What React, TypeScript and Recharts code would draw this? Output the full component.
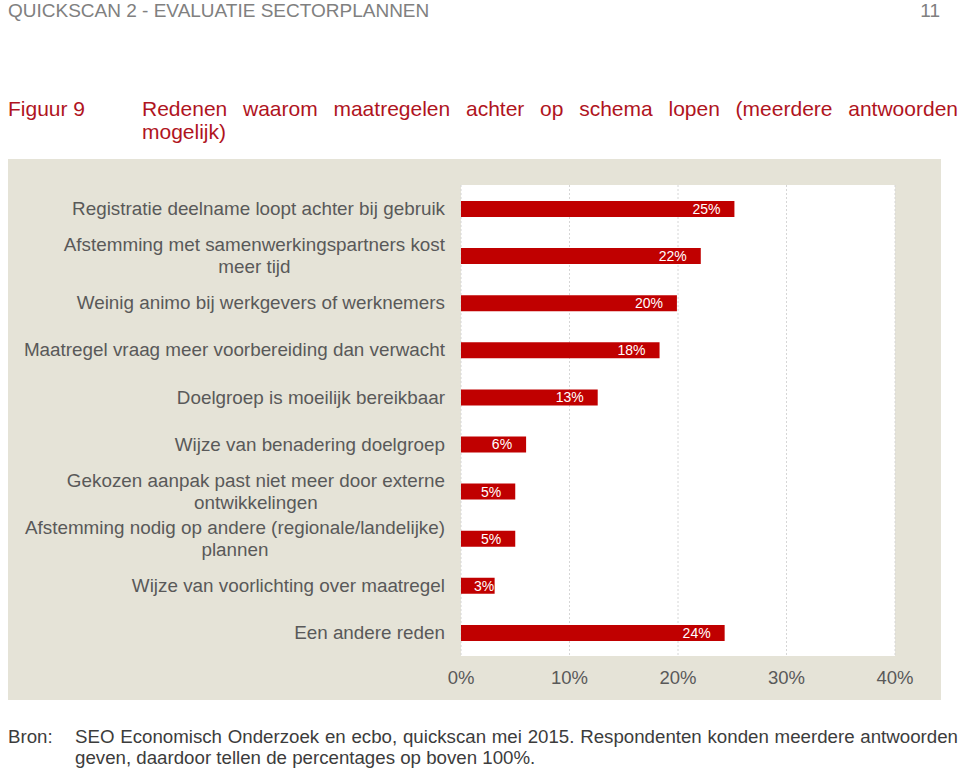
import React from 'react';
import { BarChart, Bar, XAxis, YAxis, CartesianGrid, LabelList } from 'recharts';

const categories: string[] = [
  'Registratie deelname loopt achter bij gebruik',
  'Afstemming met samenwerkingspartners kost\nmeer tijd',
  'Weinig animo bij werkgevers of werknemers',
  'Maatregel vraag meer voorbereiding dan verwacht',
  'Doelgroep is moeilijk bereikbaar',
  'Wijze van benadering doelgroep',
  'Gekozen aanpak past niet meer door externe\nontwikkelingen',
  'Afstemming nodig op andere (regionale/landelijke)\nplannen',
  'Wijze van voorlichting over maatregel',
  'Een andere reden',
];
// bar lengths (labels show the rounded percentage)
const values: number[] = [25.2, 22.1, 19.9, 18.3, 12.6, 6.0, 5.0, 5.0, 3.1, 24.3];
const xTicks: number[] = [0, 10, 20, 30, 40];

const headerText = 'QUICKSCAN 2 - EVALUATIE SECTORPLANNEN';
const pageNumber = '11';
const figureLabel = 'Figuur 9';
const titleLines = ['Redenen waarom maatregelen achter op schema lopen (meerdere antwoorden', 'mogelijk)'];
const sourceLabel = 'Bron:';
const sourceLines = [
  'SEO Economisch Onderzoek en ecbo, quickscan mei 2015. Respondenten konden meerdere antwoorden',
  'geven, daardoor tellen de percentages op boven 100%.',
];

const data = categories.map((name, i) => ({ name, value: values[i] }));

const FONT = '"Liberation Sans", Arial, Helvetica, sans-serif';

let ctx: CanvasRenderingContext2D | null = null;
function measure(text: string, size: number): number {
  if (!ctx) {
    const c = document.createElement('canvas');
    ctx = c.getContext('2d');
  }
  if (!ctx) return text.length * size * 0.5;
  ctx.font = `${size}px "Liberation Sans", Arial, sans-serif`;
  return ctx.measureText(text).width;
}

const Y_FONT = 18.85;

function YTick(props: any) {
  const { x, y, payload } = props;
  const lines = String(payload.value).split('\n');
  const lh = 22;
  const maxW = Math.max(...lines.map((l) => measure(l, Y_FONT)));
  const multi = lines.length > 1;
  return (
    <g>
      {lines.map((l, i) => (
        <text
          key={i}
          x={multi ? Number(x) - maxW / 2 : Number(x)}
          y={Number(y) + (i - (lines.length - 1) / 2) * lh}
          dy="0.35em"
          textAnchor={multi ? 'middle' : 'end'}
          fontSize={Y_FONT}
          fontFamily={FONT}
          fill="#595959"
        >
          {l}
        </text>
      ))}
    </g>
  );
}

function BarLabel(props: any) {
  const x = Number(props.x);
  const y = Number(props.y);
  const width = Number(props.width);
  const height = Number(props.height);
  const txt = `${Math.round(Number(props.value))}%`;
  const w = measure(txt, 14);
  const tx = Math.max(x + width - 14, x + 13 + w);
  return (
    <text x={tx} y={y + height / 2} dy="0.35em" textAnchor="end" fontSize={14} fontFamily={FONT} fill="#ffffff">
      {txt}
    </text>
  );
}

export default function App() {
  return (
    <div style={{ position: 'absolute', left: 0, top: 0, width: 959, height: 773, background: '#ffffff', fontFamily: FONT, overflow: 'hidden' }}>
      <div style={{ position: 'absolute', left: 8, top: 1, fontSize: 19, lineHeight: '20px', color: '#808080', whiteSpace: 'nowrap' }}>{headerText}</div>
      <div style={{ position: 'absolute', right: 19, top: 1, fontSize: 19, lineHeight: '20px', color: '#808080' }}>{pageNumber}</div>

      <div style={{ position: 'absolute', left: 8, top: 97, fontSize: 21, lineHeight: '23px', color: '#b0141e', whiteSpace: 'nowrap' }}>{figureLabel}</div>
      <div style={{ position: 'absolute', left: 142, top: 97, width: 816, fontSize: 21, lineHeight: '23px', color: '#b0141e' }}>
        <div style={{ textAlign: 'justify', textAlignLast: 'justify', whiteSpace: 'nowrap' }}>{titleLines[0]}</div>
        <div>{titleLines[1]}</div>
      </div>

      <div style={{ position: 'absolute', left: 8, top: 159, width: 933, height: 541, background: '#e5e3d7' }}>
        <BarChart
          width={933}
          height={541}
          data={data}
          layout="vertical"
          margin={{ top: 26, right: 46, left: 0, bottom: 0 }}
          barSize={16}
        >
          <CartesianGrid horizontal={false} vertical={true} fill="#ffffff" fillOpacity={1} stroke="#d6d6d6" strokeDasharray="2 2" />
          <XAxis
            type="number"
            domain={[0, 40]}
            ticks={xTicks}
            tickFormatter={(v: number) => `${v}%`}
            axisLine={false}
            tickLine={false}
            tickSize={6}
            tickMargin={9}
            height={44}
            interval={0}
            tick={{ fontSize: 18.5, fill: '#595959', fontFamily: FONT }}
          />
          <YAxis
            type="category"
            dataKey="name"
            width={453}
            axisLine={false}
            tickLine={false}
            tickSize={6}
            tickMargin={10}
            interval={0}
            tick={(p: any) => <YTick {...p} />}
          />
          <Bar dataKey="value" fill="#c00000" isAnimationActive={false}>
            <LabelList dataKey="value" content={(p: any) => <BarLabel {...p} />} />
          </Bar>
        </BarChart>
      </div>

      <div style={{ position: 'absolute', left: 8, top: 726, fontSize: 18.7, lineHeight: '21px', color: '#3c3c3c' }}>{sourceLabel}</div>
      <div style={{ position: 'absolute', left: 75, top: 726, width: 883, fontSize: 18.7, lineHeight: '21px', color: '#3c3c3c' }}>
        <div style={{ textAlign: 'justify', textAlignLast: 'justify', whiteSpace: 'nowrap' }}>{sourceLines[0]}</div>
        <div style={{ whiteSpace: 'nowrap' }}>{sourceLines[1]}</div>
      </div>
    </div>
  );
}
